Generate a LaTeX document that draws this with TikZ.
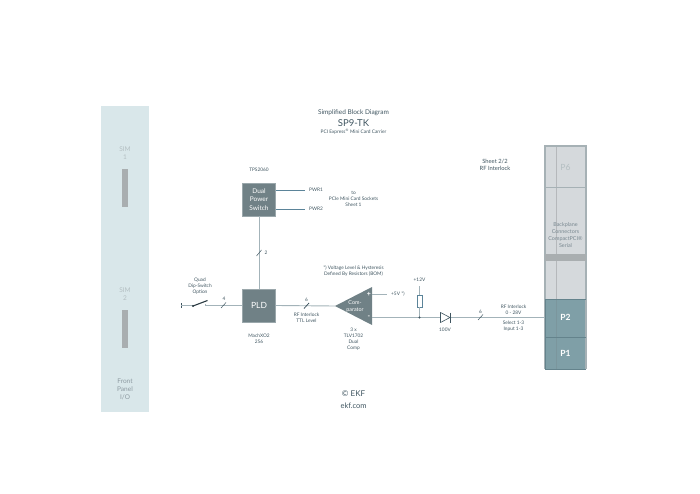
\documentclass[tikz,border=0pt]{standalone}
\usepackage{fontspec}
\setmainfont{Lato}
\usepackage{tikz}
\usetikzlibrary{positioning,calc}
\definecolor{panelfill}{HTML}{D9E7EA}
\definecolor{blockfill}{HTML}{708186}
\definecolor{blockedge}{HTML}{9AA7AB}
\definecolor{wiregray}{HTML}{A3B3B9}
\definecolor{wireblue}{HTML}{5B8499}
\definecolor{darktext}{HTML}{3F5560}
\definecolor{slotgray}{HTML}{A9AEB0}
\definecolor{backfill}{HTML}{D5D9DC}
\definecolor{backedge}{HTML}{A6B1B5}
\definecolor{connfill}{HTML}{7F9FA7}
\definecolor{connedge}{HTML}{64838C}
\definecolor{softtext}{HTML}{B4BFC2}
\tikzset{
    blockbox/.style={draw=blockedge, fill=blockfill, line width=0.8pt, text=white, minimum width=33pt, minimum height=33pt, inner sep=0pt, align=center},
    small/.style={font=\fontsize{4.8}{6}\selectfont, text=darktext, align=center, inner sep=0pt},
    paneltext/.style={font=\fontsize{6.5}{8}\selectfont, text=softtext, align=center, inner sep=0pt},
    wire/.style={draw=wiregray, line width=0.9pt},
    tick/.style={draw=darktext, line width=0.5pt},
}
\begin{document}
\begin{tikzpicture}[x=1pt, y=-1pt]
    \useasboundingbox (0,0) rectangle (700,494);
    % Front panel
    \fill[panelfill] (101,106) rectangle (149,412);
    \fill[slotgray] (122,169) rectangle (128,207);
    \fill[slotgray] (122,310) rectangle (128,348);
    \node[paneltext] (sim1) at (125,153) {SIM\\1};
    \node[paneltext] (sim2) at (125,294) {SIM\\2};
    \node[paneltext, text=darktext!60] (frontpanel) at (125,389) {Front\\Panel\\I/O};
    % Titles
    \node[small, font=\fontsize{6.5}{8}\selectfont] (title) at (353.5,113) {Simplified Block Diagram};
    \node[small, font=\fontsize{9.5}{11}\selectfont] (sp9) at (353.5,123) {SP9-TK};
    \node[small] (subtitle) at (353.5,132) {PCI Express\textsuperscript{®} Mini Card Carrier};
    \node[small, font=\fontsize{5.8}{7.6}\selectfont] (sheet) at (495,165) {Sheet 2/2\\RF Interlock};
    \node[small] (tps) at (259,170) {TPS2060};
    % Backplane
    \fill[backfill] (545,146) rectangle (586,299);
    \fill[connfill] (545,299) rectangle (586,369);
    \draw[backfill!85!black, line width=0.4pt] (556.5,146) -- (556.5,254);
    \draw[backfill!85!black, line width=0.4pt] (556.5,261) -- (556.5,299);
    \draw[connedge!85!white, line width=0.4pt] (556.5,299) -- (556.5,369);
    \draw[backedge, line width=1.5pt] (545,369) -- (545,146) -- (586,146) -- (586,369);
    \draw[backedge, line width=1pt] (545,187.5) -- (586,187.5);
    \fill[slotgray] (545,254) rectangle (586,260.5);
    \draw[connedge, line width=1pt] (545,299) -- (586,299);
    \draw[connedge, line width=1pt] (545,337) -- (586,337);
    \draw[connedge, line width=1pt] (545,369) -- (586,369);
    \draw[connedge, line width=1pt] (545,299) -- (545,369);
    \node[paneltext, font=\fontsize{8.5}{10}\selectfont] (p6) at (565.5,167) {P6};
    \node[small, text=darktext!70, font=\fontsize{5.4}{6.8}\selectfont] (backplane) at (565.5,235) {Backplane\\Connectors\\CompactPCI®\\Serial};
    \node[text=white, inner sep=0pt, font=\bfseries\fontsize{8.5}{10}\selectfont] (p2) at (565.5,317.5) {P2};
    \node[text=white, inner sep=0pt, font=\bfseries\fontsize{8.5}{10}\selectfont] (p1) at (565.5,353) {P1};
    % Blocks
    \node[blockbox, font=\fontsize{6.5}{8.2}\selectfont] (switch) at (259,199.5) {Dual\\Power\\Switch};
    \node[blockbox, font=\fontsize{8.5}{10}\selectfont] (pld) at (259,305.5) {PLD};
    \fill[blockfill] (335,306) -- (372,287) -- (372,325) -- cycle;
    \coordinate (comptip) at (335,306);
    \coordinate (compplus) at (372,294);
    \coordinate (compminus) at (372,317.5);
    \node[inner sep=0pt, text=white, font=\fontsize{5.4}{7}\selectfont, align=center] (complabel) at (355,306.5) {Com-\\parator};
    \node[inner sep=0pt, text=white, font=\bfseries\fontsize{7}{7}\selectfont] (plus) at (369,294) {+};
    \node[inner sep=0pt, text=white, font=\bfseries\fontsize{7}{7}\selectfont] (minus) at (369,317) {-};
    % Wires
    \coordinate (pwr1) at (305,190);
    \coordinate (pwr2) at (305,209);
    \draw[draw=wireblue, line width=0.7pt] (pwr1 -| switch.east) -- (pwr1);
    \draw[draw=wireblue, line width=0.7pt] (pwr2 -| switch.east) -- (pwr2);
    \node[small, right=4pt of pwr1] (pwr1t) {PWR1};
    \node[small, right=4pt of pwr2] (pwr2t) {PWR2};
    \node[small] (tosockets) at (353.5,198.5) {to\\PCIe Mini Card Sockets\\Sheet 1};
    \draw[wire] (switch) -- (pld);
    \draw[tick] (256.5,256) -- (261.5,250);
    \node[small] (two) at (266,253) {2};
    % Switch
    \coordinate (swstart) at (181,305.5);
    \coordinate (swend) at (205,305.5);
    \draw[draw=darktext, line width=0.6pt] (swstart) ++(0,-2.5) -- ++(0,5);
    \draw[wire, line width=0.7pt] (swstart) -- (193,305.5);
    \draw[draw=darktext!70!black, line width=1.1pt] (193,306) -- (207.5,300.5);
    \fill[darktext!70!black] (193,306) circle (1.2pt);
    \draw[wire] (swend) ++(0,-1.5) -- ++(0,1.5) -- (pld.west);
    \draw[tick] (221,308) -- (226,302.5);
    \node[small] (four) at (224,298.5) {4};
    \node[small] (dip) at (200,286.5) {Quad\\Dip-Switch\\Option};
    \draw[wire] (pld.east) -- (comptip);
    \draw[tick, line width=0.8pt] (304,308.5) -- (309,303);
    \node[small] (six) at (306.5,300) {6};
    \node[small] (ttl) at (306.5,317.5) {RF Interlock\\TTL Level};
    \node[small] (mach) at (259,339) {MachXO2\\256};
    % Comparator inputs
    \draw[wire] (compplus) -- (387,294);
    \node[small, anchor=west] (fivev) at (391,294) {+5V *)};
    \node[small] (voltage) at (353.5,271.5) {*) Voltage Level \& Hysteresis\\Defined By Resistors (BOM)};
    \node[small] (tlv) at (353.5,339.5) {3 x\\TLV1702\\Dual\\Comp};
    \draw[wire] (compminus) -- (440,317.5);
    \node[small] (twelve) at (419.5,280) {+12V};
    \node[draw=wireblue, fill=white, line width=0.7pt, minimum width=5pt, minimum height=12pt, inner sep=0pt] (res) at (419.5,301) {};
    \draw[wire] (res.south) -- (419.5,317.5);
    \draw[wire] (419.5,286) -- (res.north);
    \fill[darktext] (419.5,317.5) circle (1.2pt);
    % Diode
    \draw[draw=darktext, fill=white, line width=0.6pt] (440.5,312.5) -- (450,317.5) -- (440.5,322.5) -- cycle;
    \draw[draw=darktext, line width=0.8pt] (450.5,312.5) -- (450.5,322.5);
    \node[small] (hundred) at (445,329.5) {100V};
    \draw[wire] (451,317.5) -- (545,317.5);
    \draw[tick] (478,320) -- (483,314.5);
    \node[small] (sixb) at (480.5,311.5) {6};
    \node[small] (rfi) at (513.5,310) {RF Interlock\\0 - 28V};
    \node[small] (sel) at (513.5,326) {Select 1-3\\Input 1-3};
    % Footer
    \node[small, text=darktext, font=\fontsize{8}{10}\selectfont] (ekf) at (353.5,394) {© EKF};
    \node[small, text=darktext, font=\fontsize{7.5}{9}\selectfont] (ekfcom) at (353.5,406) {ekf.com};
\end{tikzpicture}
\end{document}
